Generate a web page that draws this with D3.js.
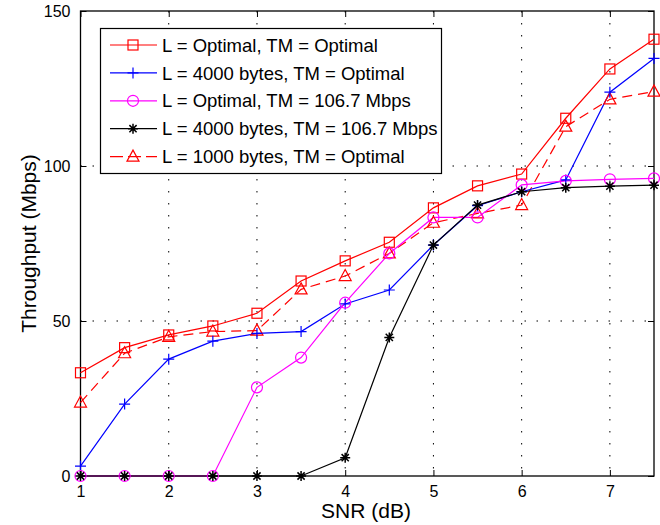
<!DOCTYPE html>
<html><head><meta charset="utf-8">
<script src="https://cdn.jsdelivr.net/npm/d3@7"></script>
<style>body{margin:0;background:#fff}svg{display:block}text{font-family:"Liberation Sans",Arial,Helvetica,sans-serif}</style>
</head><body>
<svg id="c" width="660" height="525"></svg>
<script>
const snr = [1,1.5,2,2.5,3,3.5,4,4.5,5,5.5,6,6.5,7,7.5];
const optOpt   = [33.3,41.4,45.5,48.4,52.5,62.9,69.4,75.4,86.5,93.6,97.4,115.4,131.3,140.9];
const l4000Opt = [3.2,23.2,37.7,43.5,46.0,46.6,55.5,60.0,74.5,87.2,91.7,95.5,123.8,134.7];
const optTM    = [0,0,0,0,28.6,38.2,55.9,71.8,83.4,83.4,93.9,95.2,95.7,96.0];
const l4000TM  = [0,0,0,0,0,0,5.9,44.7,74.5,87.4,91.7,93.0,93.5,93.8];
const l1000Opt = [23.7,39.6,44.9,46.6,46.9,60.2,64.5,71.8,81.7,84.7,87.4,112.7,121.5,124.0];
const xTicks = [1,2,3,4,5,6,7];
const yTicks = [0,50,100,150];
const labels = ["L = Optimal, TM = Optimal","L = 4000 bytes, TM = Optimal","L = Optimal, TM = 106.7 Mbps","L = 4000 bytes, TM = 106.7 Mbps","L = 1000 bytes, TM = Optimal"];

const series = [
  {name:labels[0], values:optOpt, color:"#ff0000", marker:"square", dash:null},
  {name:labels[1], values:l4000Opt, color:"#0000ff", marker:"plus", dash:null},
  {name:labels[2], values:optTM, color:"#ff00ff", marker:"circle", dash:null},
  {name:labels[3], values:l4000TM, color:"#000000", marker:"star", dash:null},
  {name:labels[4], values:l1000Opt, color:"#ff0000", marker:"triangle", dash:"10,6"}
];

const svg = d3.select("#c");
const L=80.5, R=654, T=11, B=476;
const x = d3.scaleLinear().domain([1,7.5]).range([L,R]);
const y = d3.scaleLinear().domain([0,150]).range([B,T]);

// grid
const g = svg.append("g");
g.selectAll(".vg").data(xTicks.filter(d=>d>1)).join("line")
  .attr("x1",d=>x(d)).attr("x2",d=>x(d)).attr("y1",T).attr("y2",B)
  .attr("stroke","#000").attr("stroke-width",1).attr("stroke-dasharray","1.5,10.5");
g.selectAll(".hg").data(yTicks.filter(d=>d>0&&d<150)).join("line")
  .attr("x1",L).attr("x2",R).attr("y1",d=>y(d)).attr("y2",d=>y(d))
  .attr("stroke","#000").attr("stroke-width",1).attr("stroke-dasharray","1.5,10.5");

// axes
const fs = "16px";
const ax = svg.append("g").attr("transform",`translate(0,${B})`).call(d3.axisBottom(x).tickValues(xTicks).tickSize(-6).tickPadding(10).tickFormat(d3.format("d")));
const axT = svg.append("g").attr("transform",`translate(0,${T})`).call(d3.axisTop(x).tickValues(xTicks).tickSize(-6).tickFormat(""));
const ay = svg.append("g").attr("transform",`translate(${L},0)`).call(d3.axisLeft(y).tickValues(yTicks).tickSize(-6).tickPadding(10));
const ayR = svg.append("g").attr("transform",`translate(${R},0)`).call(d3.axisRight(y).tickValues(yTicks).tickSize(-6).tickFormat(""));
[ax,axT,ay,ayR].forEach(a=>{
  a.select(".domain").remove();
  a.selectAll("line").attr("stroke","#000").attr("stroke-width",1);
  a.selectAll("text").attr("fill","#000").style("font-size",fs).style("font-family","'Liberation Sans',Arial,sans-serif");
});
svg.append("rect").attr("x",L).attr("y",T).attr("width",R-L).attr("height",B-T)
  .attr("fill","none").attr("stroke","#000").attr("stroke-width",1.3);

// lines
const line = d3.line().x((d,i)=>x(snr[i])).y(d=>y(d));
function drawMarker(sel, type, color){
  sel.each(function(){
    const s = d3.select(this);
    if(type==="square") s.append("rect").attr("x",-5).attr("y",-5).attr("width",10).attr("height",10).attr("fill","none").attr("stroke",color).attr("stroke-width",1.2);
    else if(type==="circle") s.append("circle").attr("r",5.5).attr("fill","none").attr("stroke",color).attr("stroke-width",1.2);
    else if(type==="triangle") s.append("path").attr("d","M0,-6.5L6,4.5L-6,4.5Z").attr("fill","none").attr("stroke",color).attr("stroke-width",1.2);
    else if(type==="plus") s.append("path").attr("d","M-5.5,0H5.5M0,-5.5V5.5").attr("stroke",color).attr("stroke-width",1.2);
    else if(type==="star") s.append("path").attr("d","M-5,0H5M0,-5V5M-3.6,-3.6L3.6,3.6M-3.6,3.6L3.6,-3.6").attr("stroke",color).attr("stroke-width",1.5);
  });
}
const order = [0,4,1,2,3];
order.forEach(k=>{
  const s = series[k];
  svg.append("path").datum(s.values).attr("d",line).attr("fill","none")
    .attr("stroke",s.color).attr("stroke-width",1.2).attr("stroke-dasharray",s.dash);
});
order.forEach(k=>{
  const s = series[k];
  const mg = svg.append("g").selectAll("g").data(s.values).join("g")
    .attr("transform",(d,i)=>`translate(${x(snr[i])},${y(d)})`);
  drawMarker(mg, s.marker, s.color);
});

// legend
const lg = svg.append("g");
lg.append("rect").attr("x",100.5).attr("y",28.5).attr("width",341).attr("height",145)
  .attr("fill","#fff").attr("stroke","#000").attr("stroke-width",1.2);
series.forEach((s,i)=>{
  const yy = 45 + i*27.9;
  lg.append("line").attr("x1",110).attr("x2",157).attr("y1",yy).attr("y2",yy)
    .attr("stroke",s.color).attr("stroke-width",1.2).attr("stroke-dasharray",s.dash ? "13,5" : null);
  const m = lg.append("g").attr("transform",`translate(133,${yy})`);
  drawMarker(m, s.marker, s.color);
  lg.append("text").attr("x",162).attr("y",yy).attr("dy","0.36em").style("font-size","18.5px").attr("fill","#000").text(s.name);
});

// axis labels
svg.append("text").attr("x",366).attr("y",518).attr("text-anchor","middle").style("font-size","21px").text("SNR (dB)");
svg.append("text").attr("transform",`translate(36,${(T+B)/2}) rotate(-90)`).attr("text-anchor","middle").style("font-size","21px").text("Throughput (Mbps)");
</script>
</body></html>
